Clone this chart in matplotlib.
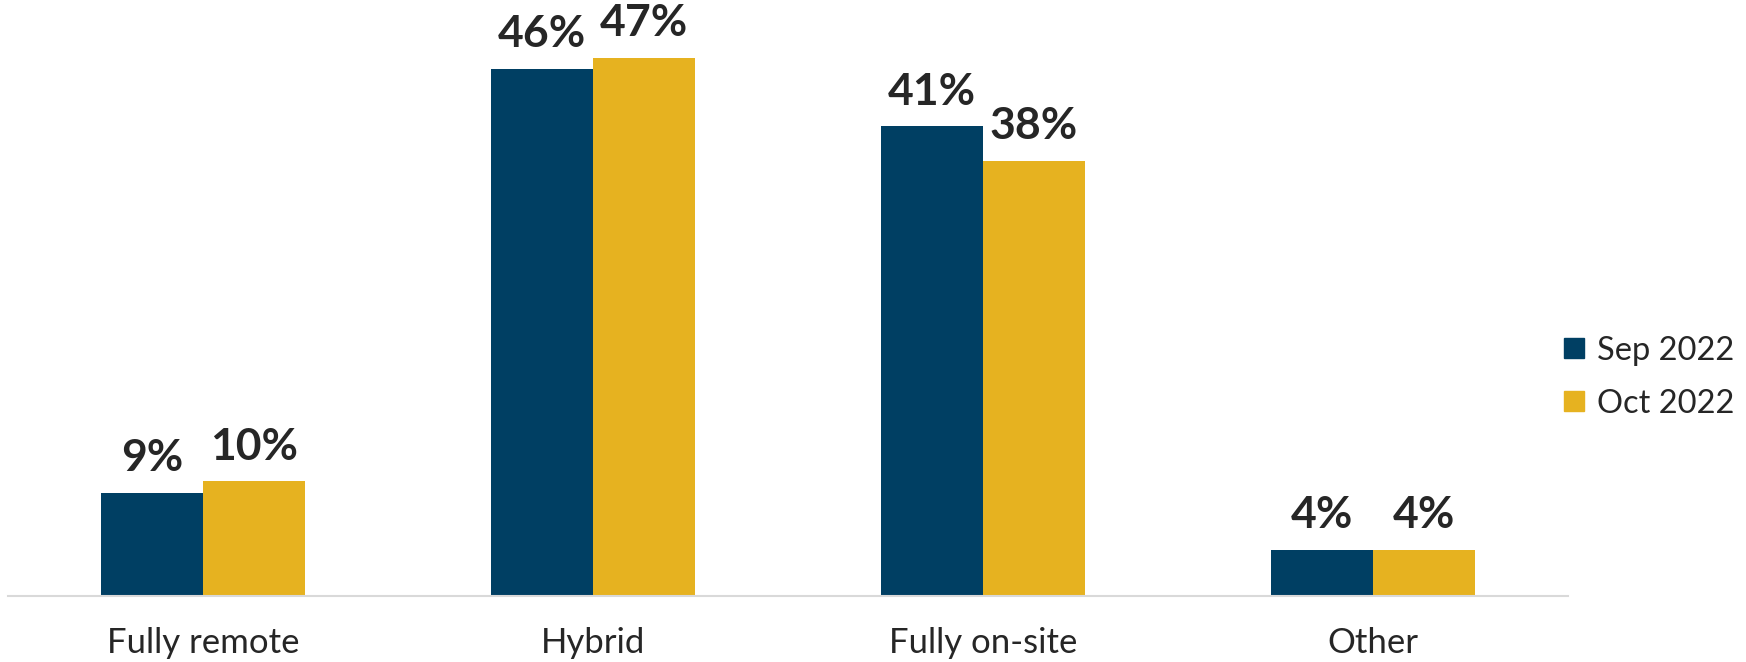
import matplotlib.pyplot as plt
import numpy as np
from matplotlib.lines import Line2D

plt.rcParams['font.family'] = ['Lato', 'DejaVu Sans']

categories = ['Fully remote', 'Hybrid', 'Fully on-site', 'Other']
sep_2022 = [9, 46, 41, 4]
oct_2022 = [10, 47, 38, 4]
series_names = ['Sep 2022', 'Oct 2022']

navy = '#003F63'
gold = '#E6B220'
text_col = '#262626'

fig = plt.figure(figsize=(17.46, 6.62), dpi=100)
ax = fig.add_axes([8/1746, 66/662, 1560/1746, 0.865])

x = np.arange(len(categories))
w = 0.262
b1 = ax.bar(x - w/2, sep_2022, w, color=navy)
b2 = ax.bar(x + w/2, oct_2022, w, color=gold)

for bars, vals in [(b1, sep_2022), (b2, oct_2022)]:
    for bar, v in zip(bars, vals):
        ax.text(bar.get_x() + bar.get_width()/2, v + 1.3, f'{v}%',
                ha='center', va='bottom', fontsize=32, fontweight='bold',
                color=text_col)

ax.set_xlim(-0.5, 3.5)
ax.set_ylim(0, 50)
ax.set_yticks([])
ax.set_xticks(x)
ax.set_xticklabels(categories, fontsize=25, color=text_col)
ax.tick_params(axis='x', length=0, pad=22)
for s in ['top', 'right', 'left']:
    ax.spines[s].set_visible(False)
ax.spines['bottom'].set_color('#D9D9D9')
ax.spines['bottom'].set_linewidth(1.5)

handles = [Line2D([], [], marker='s', linestyle='', markersize=15, color=navy),
           Line2D([], [], marker='s', linestyle='', markersize=15, color=gold)]
leg = fig.legend(handles, series_names, loc='center left',
                 bbox_to_anchor=(0.879, 0.43), frameon=False, fontsize=23.5,
                 handlelength=0.6, handletextpad=0.4, labelspacing=0.7)
for t in leg.get_texts():
    t.set_color(text_col)

fig.savefig('out.png', dpi=100)
